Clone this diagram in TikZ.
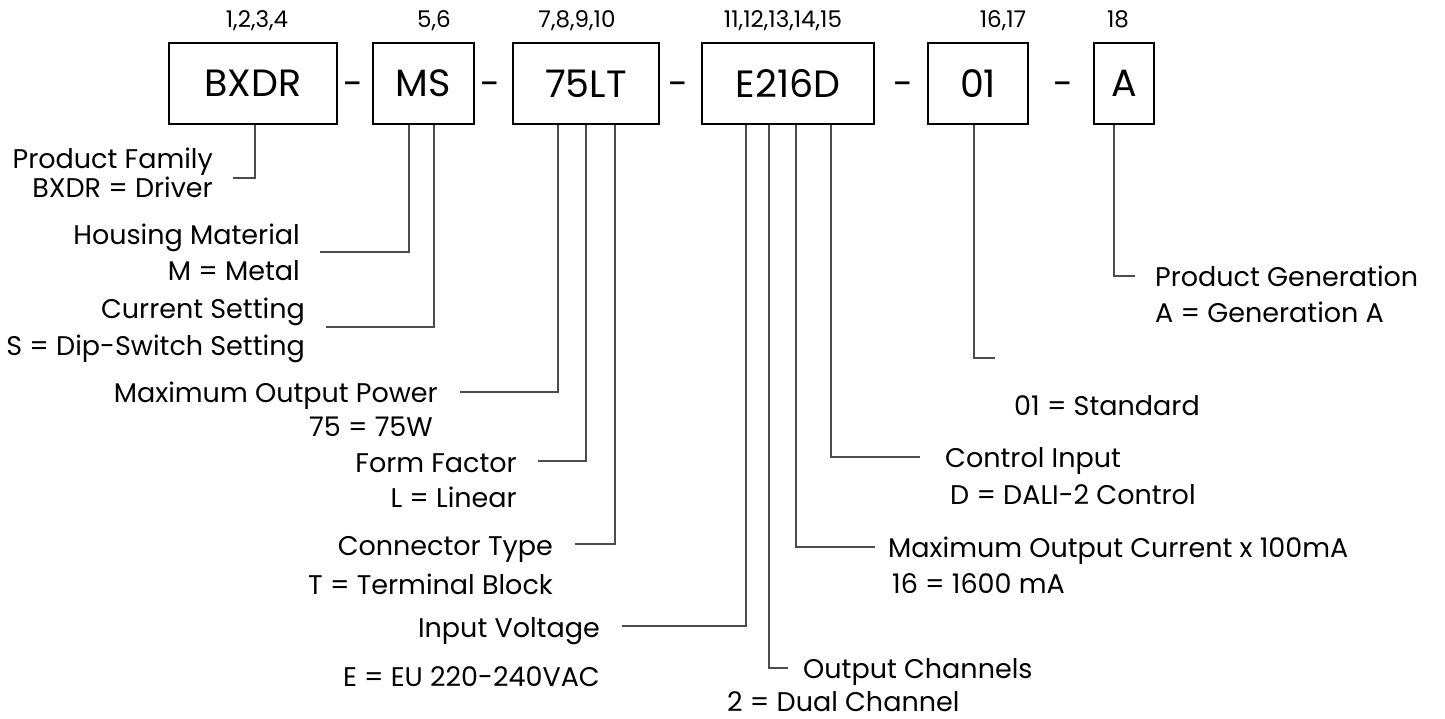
\documentclass[tikz,border=0pt]{standalone}
\usepackage{fontspec}
\setmainfont{Poppins}
\begin{document}
\begin{tikzpicture}[x=1pt,y=-1pt,
  codebox/.style={draw=black,line width=2pt,minimum height=81pt,inner sep=0pt,font=\fontsize{38}{44}\selectfont},
  numlbl/.style={inner sep=0pt,anchor=base,font=\fontsize{23}{27}\selectfont},
  dashlbl/.style={inner sep=0pt,anchor=base,font=\fontsize{36}{40}\selectfont},
  lbl/.style={inner sep=0pt,font=\fontsize{27}{31}\selectfont},
  lblr/.style={lbl,anchor=base east},
  lbll/.style={lbl,anchor=base west},
  conn/.style={draw=black!70,line width=1.3pt}]
\useasboundingbox[fill=white] (0,0) rectangle (1445,719);

% code boxes
\node[codebox,minimum width=168pt] (bxdr) at (253,83.5) {BXDR};
\node[codebox,minimum width=101pt] (ms) at (423.5,83.5) {MS};
\node[codebox,minimum width=146pt] (lt) at (586,83.5) {75LT};
\node[codebox,minimum width=172pt] (e216d) at (788,83.5) {E216D};
\node[codebox,minimum width=100pt] (o1) at (978,83.5) {01};
\node[codebox,minimum width=60pt] (ga) at (1124,83.5) {A};

% dashes
\node[dashlbl] (d1) at (353,97) {-};
\node[dashlbl] (d2) at (490,97) {-};
\node[dashlbl] (d3) at (678,97) {-};
\node[dashlbl] (d4) at (903,97) {-};
\node[dashlbl] (d5) at (1063,97) {-};

% position numbers
\node[numlbl] (n1) at (257,28) {1,2,3,4};
\node[numlbl] (n2) at (434,28) {5,6};
\node[numlbl] (n3) at (577,28) {7,8,9,10};
\node[numlbl] (n4) at (783,28) {11,12,13,14,15};
\node[numlbl] (n5) at (1003,28) {16,17};
\node[numlbl] (n6) at (1118,28) {18};

% left labels
\node[lblr] (pf) at (213,169) {Product Family};
\node[lblr] (pfv) at (213,198) {BXDR = Driver};
\node[lblr] (hm) at (300,245) {Housing Material};
\node[lblr] (hmv) at (300,280) {M = Metal};
\node[lblr] (cs) at (305,318) {Current Setting};
\node[lblr] (csv) at (305,355) {S = Dip-Switch Setting};
\node[lblr] (mp) at (438,402) {Maximum Output Power};
\node[lblr] (mpv) at (433,436) {75 = 75W};
\node[lblr] (ff) at (517,472) {Form Factor};
\node[lblr] (ffv) at (517,507) {L = Linear};
\node[lblr] (ct) at (553,555) {Connector Type};
\node[lblr] (ctv) at (553,594) {T = Terminal Block};
\node[lblr] (iv) at (600,637) {Input Voltage};
\node[lblr] (ivv) at (600,686) {E = EU 220-240VAC};

% right labels
\node[lbll] (oc) at (803,678) {Output Channels};
\node[lbll] (ocv) at (727,711) {2 = Dual Channel};
\node[lbll] (mc) at (888,557) {Maximum Output Current x 100mA};
\node[lbll] (mcv) at (892,593) {16 = 1600 mA};
\node[lbll] (ci) at (945,467) {Control Input};
\node[lbll] (civ) at (950,504) {D = DALI-2 Control};
\node[lbll] (sv) at (1014,415) {01 = Standard};
\node[lbll] (pg) at (1155,287) {Product Generation};
\node[lbll] (pgv) at (1155,322) {A = Generation A};

% connector ends
\coordinate (c1) at (233,178);
\coordinate (c2) at (320,252);
\coordinate (c3) at (326,327);
\coordinate (c4) at (460,392);
\coordinate (c5) at (538,461);
\coordinate (c6) at (575,544);
\coordinate (c7) at (622,626);
\coordinate (c8) at (788,668);
\coordinate (c9) at (875,547);
\coordinate (c10) at (920,457);
\coordinate (c11) at (995,358);
\coordinate (c12) at (1135,276);

% connectors
\draw[conn] ([xshift=2pt]bxdr.south) |- (c1);
\draw[conn] ([xshift=-14.5pt]ms.south) |- (c2);
\draw[conn] ([xshift=10.5pt]ms.south) |- (c3);
\draw[conn] ([xshift=-28pt]lt.south) |- (c4);
\draw[conn] (lt.south) |- (c5);
\draw[conn] ([xshift=29pt]lt.south) |- (c6);
\draw[conn] ([xshift=-42pt]e216d.south) |- (c7);
\draw[conn] ([xshift=-19pt]e216d.south) |- (c8);
\draw[conn] ([xshift=8pt]e216d.south) |- (c9);
\draw[conn] ([xshift=43pt]e216d.south) |- (c10);
\draw[conn] ([xshift=-4pt]o1.south) |- (c11);
\draw[conn] ([xshift=-10pt]ga.south) |- (c12);
\end{tikzpicture}
\end{document}
